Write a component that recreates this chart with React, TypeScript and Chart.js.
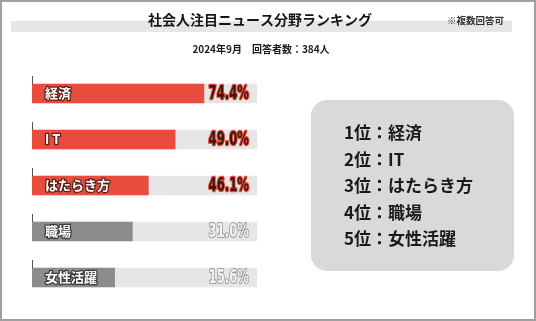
import React, { useEffect, useRef } from "react";
import { Chart, registerables } from "chart.js";

Chart.register(...registerables);

// ---- data ----
const categories = ["経済", "I T", "はたらき方", "職場", "女性活躍"];
const shares = [74.4, 49.0, 46.1, 31.0, 15.6]; // printed percentages
const barLengths = [76.4, 63.6, 51.7, 44.6, 36.7]; // drawn bar length (% of track) as seen
const trackMax = 100;
const rankLabels = ["経済", "IT", "はたらき方", "職場", "女性活躍"];
const highlightCount = 3;

const titleText = "社会人注目ニュース分野ランキング";
const noteText = "※複数回答可";
const subtitleText = "2024年9月　回答者数：384人";

const RED = "#e84c3d";
const GRAY = "#8c8c8c";
const TRACK = "#e6e6e6";
const JP = "'Noto Sans CJK JP', 'Noto Sans', sans-serif";

export default function App() {
  const ref = useRef<HTMLCanvasElement | null>(null);

  useEffect(() => {
    document.body.style.margin = "0";
    const canvas = ref.current!;
    const decor = {
      id: "decor",
      beforeDraw(chart: any) {
        const ctx = chart.ctx as CanvasRenderingContext2D;
        ctx.save();
        ctx.fillStyle = "#ffffff";
        ctx.fillRect(0, 0, 536, 321);
        // outer border
        ctx.strokeStyle = "#a0a0a0";
        ctx.lineWidth = 2;
        ctx.strokeRect(1, 1, 534, 319);
        // title band
        ctx.fillStyle = "#e6e6e6";
        ctx.fillRect(11, 21, 501, 11);
        ctx.fillStyle = "#151515";
        ctx.textAlign = "center";
        ctx.textBaseline = "middle";
        ctx.font = `bold 14px ${JP}`;
        ctx.fillText(titleText, 260, 20);
        ctx.font = `bold 9.5px ${JP}`;
        ctx.fillStyle = "#333";
        ctx.textAlign = "left";
        ctx.fillText(noteText, 447, 20);
        ctx.font = `bold 10px ${JP}`;
        ctx.textAlign = "center";
        ctx.fillStyle = "#1a1a1a";
        ctx.fillText(subtitleText, 261, 49);
        // ranking panel
        ctx.fillStyle = "#d9d9d9";
        ctx.beginPath();
        (ctx as any).roundRect(311, 100, 203, 171, 16);
        ctx.fill();
        ctx.fillStyle = "#1a1a1a";
        ctx.textAlign = "left";
        ctx.font = `bold 17px ${JP}`;
        rankLabels.forEach((r, i) => {
          ctx.fillText(`${i + 1}位：${r}`, 344, 133 + i * 26.5);
        });
        ctx.restore();
      },
      afterDatasetsDraw(chart: any) {
        const ctx = chart.ctx as CanvasRenderingContext2D;
        const meta = chart.getDatasetMeta(0);
        const xs = chart.scales.x;
        ctx.save();
        meta.data.forEach((bar: any, i: number) => {
          const top = bar.y - bar.height / 2;
          // small tick mark above bar start
          ctx.strokeStyle = "#555";
          ctx.lineWidth = 1;
          ctx.beginPath();
          ctx.moveTo(Math.round(bar.base) + 0.5, top - 8);
          ctx.lineTo(Math.round(bar.base) + 0.5, top);
          ctx.stroke();
          // category label inside bar
          ctx.font = `bold 13px ${JP}`;
          ctx.textAlign = "left";
          ctx.textBaseline = "middle";
          ctx.lineJoin = "round";
          ctx.lineWidth = 2.5;
          ctx.strokeStyle = i < highlightCount ? "#5a2018" : "#3a3a3a";
          ctx.strokeText(categories[i], bar.base + 13, bar.y);
          ctx.fillStyle = "#ffffff";
          ctx.fillText(categories[i], bar.base + 13, bar.y);
          // percentage label at track end
          const txt = shares[i].toFixed(1) + "%";
          const xr = xs.getPixelForValue(trackMax) - 8;
          ctx.save();
          ctx.translate(xr, bar.y + 1);
          ctx.scale(0.72, 1.05);
          ctx.font = `bold 18px 'DejaVu Sans Condensed', 'DejaVu Sans', sans-serif`;
          ctx.textAlign = "right";
          if (i < highlightCount) {
            ctx.lineWidth = 2.5;
            ctx.strokeStyle = RED;
            ctx.strokeText(txt, 0, 0);
            ctx.fillStyle = "#3a1610";
            ctx.fillText(txt, 0, 0);
          } else {
            ctx.lineWidth = 1.6;
            ctx.strokeStyle = "#8a8a8a";
            ctx.strokeText(txt, 0, 0);
            ctx.fillStyle = "#f2f2f2";
            ctx.fillText(txt, 0, 0);
          }
          ctx.restore();
        });
        ctx.restore();
      },
    };

    const chart = new Chart(canvas, {
      type: "bar",
      data: {
        labels: categories,
        datasets: [
          {
            data: barLengths,
            backgroundColor: barLengths.map((_, i) => (i < highlightCount ? RED : GRAY)),
            grouped: false,
            barThickness: 19,
            borderWidth: 0,
          } as any,
          {
            data: categories.map(() => trackMax),
            backgroundColor: TRACK,
            grouped: false,
            barThickness: 19,
            borderWidth: 0,
          } as any,
        ],
      },
      options: {
        indexAxis: "y",
        responsive: false,
        animation: false,
        devicePixelRatio: 1,
        layout: { padding: { left: 32, right: 279, top: 70.5, bottom: 20.5 } },
        scales: {
          x: { display: false, min: 0, max: trackMax },
          y: { display: false },
        },
        plugins: {
          legend: { display: false },
          tooltip: { enabled: false },
        },
      },
      plugins: [decor],
    });
    return () => chart.destroy();
  }, []);

  return <canvas ref={ref} width={536} height={321} style={{ display: "block" }} />;
}
